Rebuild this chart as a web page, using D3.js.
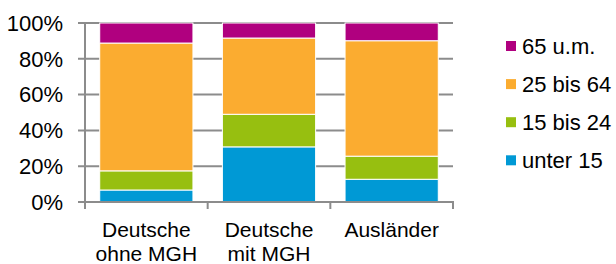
<!DOCTYPE html>
<html>
<head>
<meta charset="utf-8">
<script src="https://cdn.jsdelivr.net/npm/d3@7"></script>
<style>
  body { margin: 0; background: #fff; }
  svg text { font-family: "Liberation Sans", Arial, sans-serif; fill: #000; }
</style>
</head>
<body>
<div id="chart"></div>
<script>
// categories (two-line labels)
var categories = ["Deutsche ohne MGH", "Deutsche mit MGH", "Ausländer"];
var catLines = [["Deutsche", "ohne MGH"], ["Deutsche", "mit MGH"], ["Ausländer"]];

// series, bottom to top
var seriesNames = ["unter 15", "15 bis 24", "25 bis 64", "65 u.m."];
var seriesColors = ["#0099d5", "#97bf10", "#fbac30", "#b0007f"];

var unter15   = [6.7, 30.8, 12.7];
var bis24     = [10.7, 18.2, 12.9];
var bis64     = [71.4, 42.6, 64.5];
var ueber65   = [11.2, 8.4, 9.9];

var yTicks = [0, 20, 40, 60, 80, 100];

function stackedChart(id){
    var width = 616, height = 264;
    var margin = {top: 23, left: 85, right: 163, bottom: 62};
    var w = width - margin.left - margin.right,
        h = height - margin.top - margin.bottom;

    var table = categories.map(function(c, i){
        return {cat: c, "unter 15": unter15[i], "15 bis 24": bis24[i],
                "25 bis 64": bis64[i], "65 u.m.": ueber65[i]};
    });
    var stacked = d3.stack().keys(seriesNames)(table);

    var xScale = d3.scaleBand()
        .domain(categories)
        .range([0, w])
        .paddingInner(0.24)
        .paddingOuter(0.12);

    var yScale = d3.scaleLinear()
        .domain([0, 100])
        .range([h, 0]);

    var svg = d3.select("#" + id).append("svg")
        .attr("width", width)
        .attr("height", height);
    var g = svg.append("g")
        .attr("transform", "translate(" + margin.left + "," + margin.top + ")");

    // gridlines with little ticks to the left
    g.selectAll("line.grid").data(yTicks.filter(d => d > 0)).enter().append("line")
        .attr("class", "grid")
        .attr("x1", -7).attr("x2", w)
        .attr("y1", d => yScale(d)).attr("y2", d => yScale(d))
        .attr("stroke", "#8c8c8c")
        .attr("stroke-width", 2);

    // bars
    var layers = g.selectAll("g.layer").data(stacked).enter().append("g")
        .attr("class", "layer")
        .attr("fill", (d, i) => seriesColors[i]);
    layers.selectAll("rect").data(d => d).enter().append("rect")
        .attr("x", d => xScale(d.data.cat))
        .attr("width", xScale.bandwidth())
        .attr("y", d => yScale(d[1]))
        .attr("height", d => yScale(d[0]) - yScale(d[1]))
        .attr("stroke", "#fff")
        .attr("stroke-width", 1);

    // y axis line
    g.append("line")
        .attr("x1", 0).attr("x2", 0)
        .attr("y1", 0).attr("y2", h + 7)
        .attr("stroke", "#8c8c8c").attr("stroke-width", 2);
    // x axis line
    g.append("line")
        .attr("x1", -7).attr("x2", w + 1)
        .attr("y1", h).attr("y2", h)
        .attr("stroke", "#8c8c8c").attr("stroke-width", 2);
    // category boundary ticks
    var step = xScale.step();
    g.selectAll("line.xtick").data(categories).enter().append("line")
        .attr("class", "xtick")
        .attr("x1", (d, i) => (i + 1) * step).attr("x2", (d, i) => (i + 1) * step)
        .attr("y1", h).attr("y2", h + 7)
        .attr("stroke", "#8c8c8c").attr("stroke-width", 2);

    // y labels
    g.selectAll("text.ylab").data(yTicks).enter().append("text")
        .attr("class", "ylab")
        .attr("x", -22)
        .attr("y", d => yScale(d))
        .attr("dy", "0.35em")
        .attr("text-anchor", "end")
        .attr("font-size", "22px")
        .text(d => d + "%");

    // x labels
    var xl = g.selectAll("text.xlab").data(catLines).enter().append("text")
        .attr("class", "xlab")
        .attr("text-anchor", "middle")
        .attr("font-size", "21px")
        .attr("transform", (d, i) => "translate(" + (xScale(categories[i]) + xScale.bandwidth() / 2) + "," + (h + 34.5) + ")");
    xl.selectAll("tspan").data(d => d).enter().append("tspan")
        .attr("x", 0)
        .attr("y", (d, i) => i * 24)
        .text(d => d);

    // legend, top to bottom reversed order
    var legendItems = seriesNames.map((n, i) => ({name: n, color: seriesColors[i]})).reverse();
    var lg = svg.append("g").attr("transform", "translate(506,41)");
    var li = lg.selectAll("g.item").data(legendItems).enter().append("g")
        .attr("class", "item")
        .attr("transform", (d, i) => "translate(0," + (i * 38.1) + ")");
    li.append("rect")
        .attr("width", 10).attr("height", 10)
        .attr("fill", d => d.color);
    li.append("text")
        .attr("x", 16)
        .attr("y", 5)
        .attr("dy", "0.36em")
        .attr("font-size", "22px")
        .text(d => d.name);
}

stackedChart("chart");
</script>
</body>
</html>
